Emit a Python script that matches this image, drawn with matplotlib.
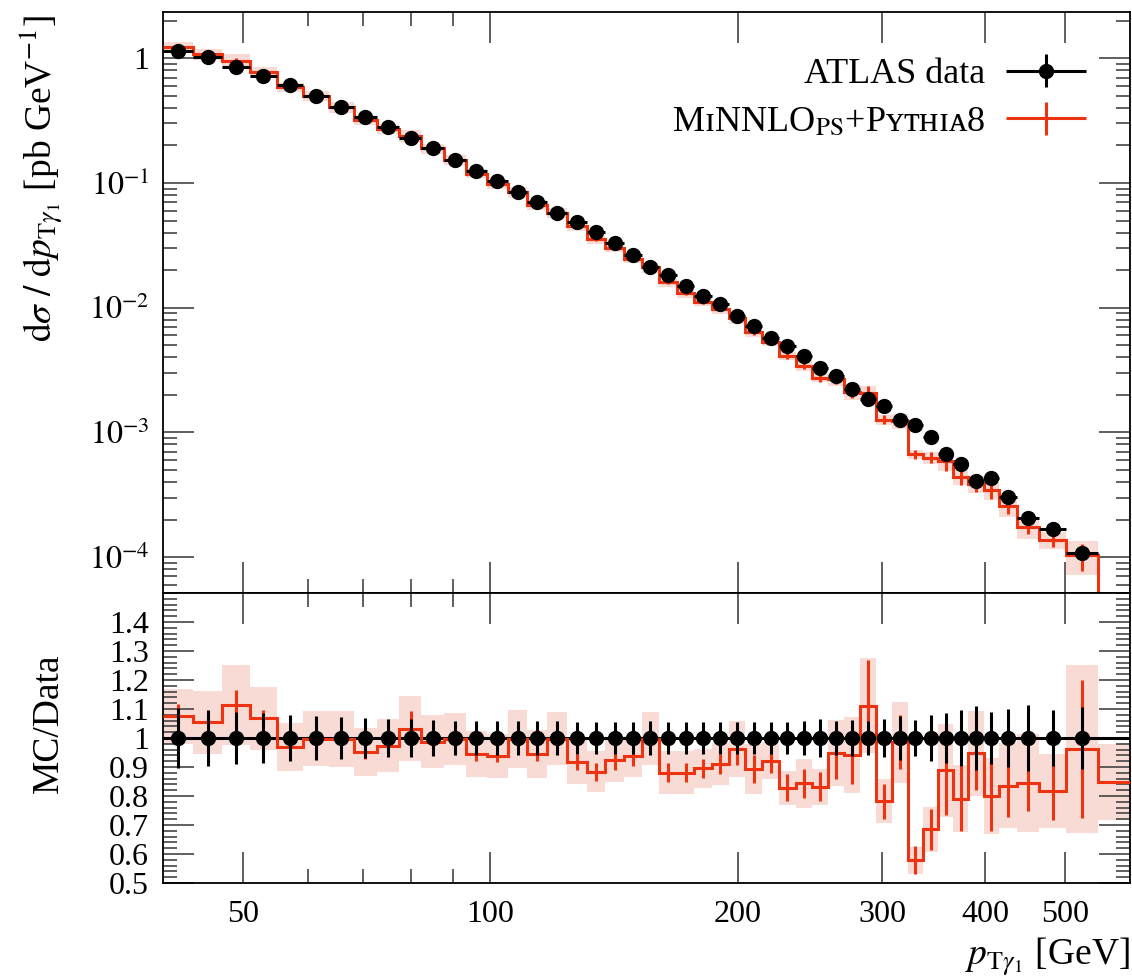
import numpy as np
import matplotlib
matplotlib.use("Agg")
from matplotlib import pyplot as plt
from matplotlib.ticker import FixedLocator, MultipleLocator, NullFormatter
from matplotlib.legend_handler import HandlerErrorbar

plt.rcParams['font.family'] = ['Liberation Serif', 'DejaVu Serif']
plt.rcParams['mathtext.fontset'] = 'stix'
plt.rcParams['font.size'] = 23

# bin edges in pT [GeV] (last bin has MC only)
edges = [40, 43.5, 47.2, 51, 55, 59.2, 63.6, 68.2, 72.8, 77.5, 82.5, 87.8, 93.4, 99,
         105, 111, 117.3, 124, 131, 138, 145.4, 152.8, 160.5, 168.7, 177.2, 186, 195,
         204.4, 214, 224.5, 235.3, 246.3, 257.8, 269.6, 281.8, 294.4, 308, 322, 336,
         350.4, 365.7, 381.7, 398.2, 416, 437.8, 465, 501.6, 548, 600]

# ATLAS data [pb/GeV]
data = [1.15, 1.03, 0.856, 0.721, 0.607, 0.499, 0.405, 0.336, 0.280, 0.231,
        0.192, 0.153, 0.1255, 0.1039, 0.0851, 0.0708, 0.0578, 0.0489, 0.0402, 0.0328,
        0.0263, 0.0211, 0.0182, 0.01493, 0.01248, 0.01064, 0.00862, 0.00717, 0.00575, 0.00493,
        0.00407, 0.00327, 0.00283, 0.00224, 0.00185, 0.00162, 0.00125, 0.00115, 0.000916, 0.000668,
        0.000555, 0.000408, 0.000428, 0.000305, 0.000205, 0.000168, 0.000107]
# relative data uncertainty
data_err = [0.105, 0.095, 0.089, 0.087, 0.08, 0.075, 0.072, 0.069, 0.066, 0.064,
            0.063, 0.06, 0.06, 0.058, 0.059, 0.059, 0.057, 0.056, 0.056, 0.056,
            0.056, 0.057, 0.056, 0.056, 0.054, 0.054, 0.056, 0.056, 0.056, 0.054,
            0.059, 0.066, 0.059, 0.062, 0.058, 0.066, 0.077, 0.063, 0.081, 0.087,
            0.096, 0.11, 0.089, 0.1, 0.114, 0.098, 0.107]

# MC / data ratio
ratio = [1.075, 1.054, 1.114, 1.068, 0.968, 0.997, 0.997, 0.951, 0.973, 1.032,
         0.987, 0.997, 0.945, 0.937, 0.997, 0.945, 0.997, 0.918, 0.884, 0.925,
         0.937, 0.997, 0.881, 0.881, 0.895, 0.910, 0.962, 0.893, 0.922, 0.829,
         0.844, 0.832, 0.948, 0.942, 1.112, 0.782, 0.985, 0.579, 0.685, 0.889,
         0.791, 0.947, 0.800, 0.835, 0.844, 0.818, 0.962, 0.849]
# MC value in the last (MC only) bin [pb/GeV]
mc_tail = 3e-5
# relative MC stat. error and band
mc_stat = [0.039, 0.03, 0.046, 0.027, 0.03, 0.025, 0.025, 0.023, 0.025, 0.06,
           0.025, 0.025, 0.025, 0.021, 0.025, 0.025, 0.025, 0.031, 0.035, 0.038,
           0.035, 0.035, 0.037, 0.039, 0.037, 0.037, 0.056, 0.055, 0.045, 0.056,
           0.06, 0.06, 0.093, 0.105, 0.141, 0.078, 0.095, 0.084, 0.102, 0.173,
           0.141, 0.135, 0.15, 0.127, 0.112, 0.124, 0.247, 0.0]
mc_band = [0.089, 0.103, 0.125, 0.101, 0.085, 0.095, 0.097, 0.087, 0.094, 0.109,
           0.092, 0.091, 0.083, 0.081, 0.101, 0.086, 0.092, 0.084, 0.08, 0.082,
           0.075, 0.092, 0.083, 0.083, 0.074, 0.08, 0.1, 0.095, 0.07, 0.071,
           0.1, 0.075, 0.12, 0.14, 0.147, 0.096, 0.141, 0.08, 0.115, 0.18,
           0.146, 0.155, 0.163, 0.175, 0.2, 0.156, 0.3, 0.155]

red = '#ee3311'
band_col = '#f8dbd5'

edges = np.array(edges)
data = np.array(data)
data_err = np.array(data_err)
ratio = np.array(ratio)
mc_stat = np.array(mc_stat)
mc_band = np.array(mc_band)
nd = len(data)
centers = 0.5 * (edges[:-1] + edges[1:])
halfw = 0.5 * (edges[1:] - edges[:-1])
mc = np.append(ratio[:nd] * data, mc_tail)

fig = plt.figure(figsize=(11.32, 9.77), dpi=100)
ax = fig.add_axes([163 / 1132, 1 - 593 / 977, 967 / 1132, 581 / 977])
ax2 = fig.add_axes([163 / 1132, 1 - 883 / 977, 967 / 1132, 290 / 977], sharex=ax)

# ---- main panel
ax.stairs(mc * (1 + mc_band), edges, baseline=mc * (1 - mc_band), fill=True,
          color=band_col, lw=0, zorder=1)
ax.stairs(mc, edges, baseline=None, color=red, lw=2.2, zorder=2)
mc_h = ax.errorbar(centers, mc, yerr=mc * mc_stat, xerr=halfw, fmt='none',
                   ecolor=red, elinewidth=2.2, capsize=0, zorder=3)
d_h = ax.errorbar(centers[:nd], data, yerr=data * data_err, xerr=halfw[:nd], fmt='o',
                  color='black', ms=10, elinewidth=2.2, capsize=0, zorder=4)

ax.set_xscale('log')
ax.set_yscale('log')
ax.set_xlim(40, 600)
ax.set_ylim(5.15e-5, 2.35)
ax.yaxis.set_major_locator(FixedLocator([1e-4, 1e-3, 1e-2, 1e-1, 1]))
ax.set_yticklabels([r'$10^{-4}$', r'$10^{-3}$', r'$10^{-2}$', r'$10^{-1}$', '1'])
ax.yaxis.set_minor_locator(FixedLocator([m * 10.0 ** e for e in range(-5, 1) for m in range(2, 10)]))
ax.yaxis.set_minor_formatter(NullFormatter())
ax.set_ylabel(r'$\mathrm{d}\sigma\ /\ \mathrm{d}p_{\mathrm{T}\gamma_1}$ [pb GeV$^{-1}$]',
              loc='top', fontsize=27)
ax.yaxis.set_label_coords(-0.1, 0.995)

ax.legend([d_h, mc_h], ['ATLAS data', r'MɪNNLO$_{\mathrm{PS}}$+Pʏᴛʜɪᴀ8'],
          loc='upper right', bbox_to_anchor=(0.973, 0.952), frameon=False,
          markerfirst=False, handlelength=2.2, handletextpad=0.6,
          labelspacing=0.4, borderpad=0, fontsize=26,
          handler_map={type(d_h): HandlerErrorbar(xerr_size=1.1, yerr_size=0.45)})

# ---- ratio panel
ax2.stairs(ratio * (1 + mc_band), edges, baseline=ratio * (1 - mc_band), fill=True,
           color=band_col, lw=0, zorder=1)
ax2.axhline(1, color='black', lw=2.2, zorder=2)
ax2.stairs(ratio, edges, baseline=None, color=red, lw=2.2, zorder=3)
ax2.errorbar(centers, ratio, yerr=ratio * mc_stat, fmt='none', ecolor=red,
             elinewidth=2.2, capsize=0, zorder=3)
ax2.errorbar(centers[:nd], np.ones(nd), yerr=data_err, fmt='o', color='black',
             ms=10, elinewidth=2.2, capsize=0, zorder=4)
ax2.set_ylim(0.5, 1.5)
ax2.yaxis.set_major_locator(FixedLocator([0.5, 0.6, 0.7, 0.8, 0.9, 1.0, 1.1, 1.2, 1.3, 1.4]))
ax2.set_yticklabels(['0.5', '0.6', '0.7', '0.8', '0.9', '1', '1.1', '1.2', '1.3', '1.4'])
ax2.yaxis.set_minor_locator(MultipleLocator(0.02))
ax2.set_ylabel('MC/Data', fontsize=27)
ax2.yaxis.set_label_coords(-0.1, 0.55)

ax2.xaxis.set_major_locator(FixedLocator([50, 100, 200, 300, 400, 500]))
ax2.xaxis.set_minor_locator(FixedLocator([60, 70, 80, 90]))
ax2.set_xticklabels(['50', '100', '200', '300', '400', '500'])
ax2.xaxis.set_minor_formatter(NullFormatter())
ax2.set_xlabel(r'$p_{\mathrm{T}\gamma_1}$ [GeV]', loc='right', fontsize=27)
ax2.xaxis.set_label_coords(1.0, -0.18)
plt.setp(ax.get_xticklabels(), visible=False)

for a in (ax, ax2):
    a.tick_params(which='both', direction='in', top=True, right=True, width=1.2, color='#444444')
    a.tick_params(which='major', length=22)
    a.tick_params(which='minor', length=10)
    a.tick_params(axis='x', which='major', pad=12)
    a.tick_params(axis='y', which='major', pad=10)
    for s in a.spines.values():
        s.set_linewidth(1.3)

fig.savefig('out.png', dpi=100)
